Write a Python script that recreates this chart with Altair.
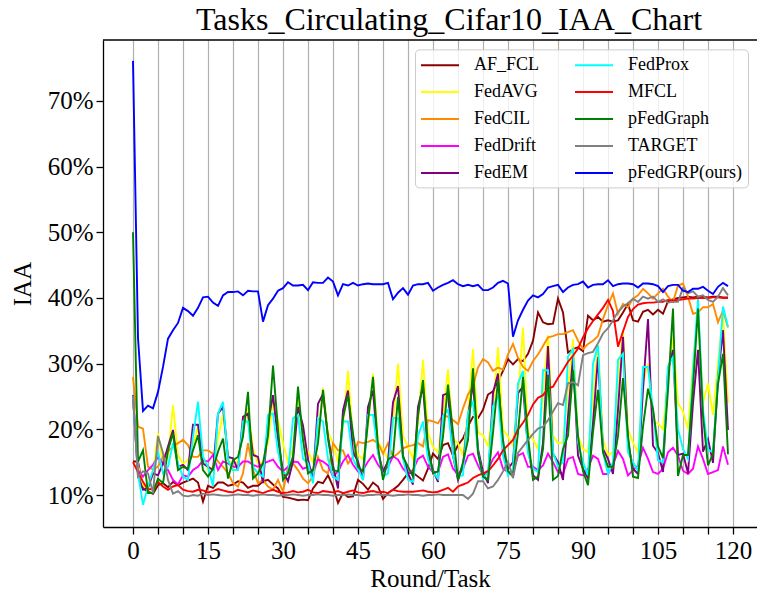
import altair as alt
import pandas as pd

rounds = list(range(120))

af_fcl = [
15.1, 15.1, 11.0, 10.5, 10.2,
11.5, 11.8, 11.2, 12.0, 11.5,
11.9, 12.2, 12.5, 11.9, 9.0,
11.4, 11.1, 11.9, 11.9, 11.4,
11.6, 12.1, 11.9, 11.1, 11.4,
11.4, 12.1, 12.3, 11.6, 11.0,
9.7, 9.6, 9.4, 9.2, 9.3,
9.2, 11.0, 12.0, 11.8, 13.0,
11.3, 8.8, 10.3, 9.7, 9.8,
12.3, 11.7, 10.8, 11.9, 11.3,
9.4, 10.3, 10.8, 11.4, 12.3,
13.3, 13.4, 12.8, 12.2, 14.0,
16.3, 15.5, 17.6, 17.9, 16.0,
17.6, 18.6, 20.5, 21.9, 21.7,
23.0, 25.3, 25.8, 27.3, 28.9,
30.7, 29.9, 30.7, 30.4, 31.5,
33.5, 37.8, 36.3, 36.0, 36.1,
39.9, 37.8, 31.7, 32.2, 32.5,
31.9, 37.3, 36.6, 37.1, 36.4,
36.6, 36.4, 36.6, 37.8, 39.1,
36.6, 36.4, 37.9, 38.2, 37.5,
38.2, 37.6, 39.5, 39.8, 40.0,
40.1, 40.2, 40.1, 40.2, 40.2,
40.1, 40.2, 40.2, 40.1, 40.1]

fedavg = [
25.0, 14.5, 11.5, 10.8, 13.5,
19.4, 14.8, 15.8, 23.7, 16.0,
14.8, 15.3, 17.4, 20.4, 15.8,
13.8, 14.3, 18.6, 22.4, 15.8,
13.8, 15.3, 19.9, 23.2, 17.1,
14.8, 15.0, 18.0, 24.5, 21.4,
17.9, 15.0, 17.0, 24.5, 18.5,
16.6, 15.0, 19.0, 26.3, 19.5,
17.9, 15.0, 20.5, 28.9, 18.5,
16.1, 15.5, 20.5, 28.5, 18.0,
17.0, 15.5, 21.0, 30.0, 19.0,
17.3, 15.5, 21.0, 30.6, 19.5,
17.3, 16.5, 22.0, 29.1, 18.5,
17.9, 16.0, 22.5, 32.2, 19.5,
19.1, 17.5, 23.0, 32.5, 20.0,
18.9, 17.5, 25.0, 35.5, 19.5,
18.5, 17.0, 25.0, 34.3, 19.0,
17.9, 18.0, 26.0, 33.7, 19.0,
17.0, 16.5, 25.0, 32.7, 18.5,
16.1, 16.5, 27.0, 35.0, 20.0,
18.0, 16.5, 27.0, 30.0, 21.0,
20.9, 20.0, 28.0, 34.0, 24.0,
22.7, 20.0, 30.0, 38.0, 24.0,
27.0, 22.2, 30.0, 37.5, 24.0]

fedcil = [
28.0, 20.4, 20.1, 14.3, 13.9,
14.3, 15.8, 16.6, 17.4, 17.9,
18.4, 17.6, 15.8, 15.8, 16.8,
16.8, 16.3, 15.1, 14.3, 13.3,
11.8, 11.3, 13.3, 17.9, 13.8,
11.8, 12.3, 11.3, 10.8, 12.3,
10.5, 14.3, 14.8, 13.8, 12.5,
11.8, 12.8, 15.8, 13.8, 13.3,
17.9, 16.8, 16.8, 14.8, 15.8,
18.1, 17.9, 18.1, 18.4, 17.9,
16.3, 17.9, 15.8, 16.3, 17.1,
17.4, 17.6, 17.9, 17.4, 21.4,
21.2, 20.9, 22.2, 21.9, 21.4,
20.8, 23.2, 25.3, 26.6, 29.4,
30.7, 30.2, 28.9, 29.4, 29.1,
31.4, 33.0, 30.9, 29.5, 28.9,
30.4, 31.4, 32.7, 34.0, 34.2,
34.5, 34.5, 34.8, 35.1, 33.5,
32.2, 33.0, 33.5, 34.2, 36.8,
38.9, 40.7, 37.6, 39.1, 38.6,
39.9, 40.4, 41.4, 40.7, 39.9,
40.7, 41.4, 40.2, 39.4, 41.9,
42.2, 40.2, 37.6, 37.8, 38.6,
38.6, 39.1, 36.3, 38.1, 35.5]

feddrift = [
25.0, 13.8, 12.8, 13.8, 14.6,
15.8, 14.8, 13.8, 12.3, 11.6,
13.0, 12.8, 13.8, 14.3, 15.3,
15.1, 16.1, 13.8, 15.1, 14.8,
14.3, 14.3, 15.1, 15.1, 14.6,
14.3, 14.8, 15.1, 15.4, 14.3,
13.6, 14.3, 15.1, 15.0, 14.0,
14.3, 13.6, 15.4, 15.1, 14.5,
12.8, 13.6, 15.1, 16.1, 14.6,
13.6, 13.8, 15.1, 16.1, 14.6,
13.6, 14.3, 15.9, 15.4, 14.0,
13.2, 13.8, 15.5, 16.0, 14.3,
13.5, 13.5, 15.8, 16.2, 14.0,
13.2, 14.0, 16.0, 16.3, 14.5,
13.0, 13.8, 15.5, 16.5, 14.0,
13.5, 13.5, 16.0, 16.4, 14.3,
14.3, 13.8, 14.5, 16.3, 15.0,
13.5, 13.2, 15.5, 15.8, 13.2,
13.0, 14.0, 16.0, 15.5, 13.2,
13.2, 14.5, 16.7, 15.5, 13.0,
13.8, 14.5, 17.2, 15.5, 13.5,
13.2, 14.0, 16.5, 17.2, 16.0,
13.7, 13.2, 14.0, 17.4, 15.5,
13.2, 13.5, 13.8, 17.4, 14.6]

fedem = [
25.2, 12.8, 10.8, 11.1, 13.3,
13.0, 14.8, 17.4, 19.9, 14.3,
14.6, 13.8, 20.7, 20.7, 14.8,
14.3, 13.8, 22.4, 23.4, 15.8,
15.6, 13.8, 21.9, 22.4, 16.1,
15.8, 11.8, 20.9, 25.2, 18.4,
13.6, 12.1, 15.1, 23.4, 20.6,
15.4, 12.3, 23.9, 25.4, 18.9,
14.5, 11.0, 22.9, 25.9, 16.5,
15.1, 12.3, 23.4, 25.9, 16.6,
13.6, 15.1, 24.1, 26.6, 16.0,
13.3, 11.6, 23.4, 26.5, 16.5,
13.8, 12.0, 25.2, 25.5, 16.0,
12.3, 14.5, 22.0, 27.0, 17.0,
13.5, 11.8, 25.5, 28.5, 16.5,
14.0, 15.0, 25.5, 26.5, 17.0,
13.0, 12.3, 18.0, 32.7, 16.3,
15.0, 12.3, 22.0, 31.0, 16.0,
14.0, 12.5, 21.0, 31.0, 17.0,
15.5, 13.2, 23.0, 34.1, 18.0,
14.0, 13.2, 26.0, 36.8, 17.5,
16.4, 13.5, 29.0, 32.1, 16.1,
16.3, 13.3, 24.0, 32.1, 16.6,
18.5, 14.9, 28.0, 35.1, 19.9]

fedprox = [
25.0, 13.3, 8.5, 11.3, 13.8,
16.6, 13.3, 14.3, 17.9, 14.8,
12.8, 12.3, 18.9, 24.2, 15.8,
14.3, 11.3, 22.4, 24.2, 15.3,
13.8, 13.8, 21.2, 21.2, 14.3,
13.3, 12.8, 22.2, 22.4, 16.6,
13.3, 13.3, 21.7, 22.2, 15.5,
14.8, 11.8, 21.7, 21.2, 15.5,
12.8, 12.3, 21.2, 21.2, 15.5,
14.0, 12.3, 22.2, 22.2, 16.5,
12.8, 13.3, 21.7, 21.7, 15.5,
12.3, 12.0, 19.0, 21.2, 15.5,
13.5, 12.5, 22.0, 23.0, 16.0,
12.8, 13.0, 22.5, 24.3, 16.5,
12.5, 13.5, 23.5, 25.0, 16.0,
13.0, 14.0, 27.0, 28.9, 16.3,
14.0, 13.5, 29.0, 29.0, 16.5,
14.3, 15.0, 31.1, 32.2, 18.0,
15.0, 13.0, 30.0, 32.8, 16.5,
13.2, 15.0, 30.6, 31.5, 16.5,
15.0, 13.7, 29.5, 29.5, 23.0,
15.3, 15.0, 29.6, 31.0, 20.0,
17.0, 15.5, 29.0, 39.9, 23.0,
16.9, 16.5, 28.0, 38.7, 35.6]

mfcl = [
15.0, 13.5, 12.0, 10.8, 11.0,
12.0, 11.3, 10.8, 11.3, 11.5,
10.8, 10.6, 10.5, 10.8, 10.7,
10.4, 10.6, 10.9, 10.7, 10.5,
10.4, 10.8, 10.6, 10.4, 10.7,
10.5, 10.3, 10.6, 10.8, 10.5,
10.3, 10.4, 10.6, 10.4, 10.5,
10.8, 10.4, 10.3, 10.6, 10.5,
10.4, 10.6, 10.3, 10.5, 10.7,
10.4, 10.3, 10.5, 10.6, 10.4,
10.5, 10.3, 10.8, 10.6, 10.5,
10.5, 10.5, 10.6, 10.7, 10.5,
10.4, 10.5, 10.8, 11.1, 10.5,
11.3, 11.6, 11.9, 12.6, 13.0,
13.3, 13.6, 14.5, 15.5, 16.8,
17.6, 18.4, 20.0, 21.0, 22.2,
23.8, 24.8, 25.2, 26.2, 26.5,
27.8, 29.0, 30.3, 31.2, 32.3,
34.0, 35.4, 36.5, 37.5, 38.5,
39.7, 38.0, 32.6, 34.9, 37.1,
38.3, 39.0, 39.2, 39.3, 39.3,
39.4, 39.4, 39.7, 39.6, 39.7,
39.8, 39.9, 39.9, 40.0, 40.0,
40.0, 40.1, 40.1, 40.0, 40.0]

pfedgraph = [
50.0, 15.1, 16.8, 10.3, 10.3,
12.5, 11.8, 16.8, 19.4, 13.8,
14.3, 14.0, 16.8, 19.1, 13.8,
12.8, 14.0, 16.6, 18.6, 12.5,
15.3, 15.8, 18.9, 25.7, 12.5,
13.3, 14.8, 19.0, 29.7, 20.0,
12.3, 13.3, 15.9, 26.5, 18.4,
13.3, 13.8, 17.9, 26.0, 18.6,
13.8, 13.6, 21.7, 25.2, 19.4,
14.3, 13.6, 21.2, 28.0, 17.4,
12.3, 15.4, 15.9, 24.9, 15.8,
14.3, 12.8, 22.0, 27.5, 17.4,
13.3, 13.6, 18.9, 26.8, 19.5,
12.3, 15.0, 18.4, 29.3, 16.4,
12.8, 12.3, 19.5, 27.5, 18.4,
13.6, 12.8, 19.5, 28.0, 18.9,
12.3, 12.8, 17.0, 28.3, 12.3,
12.9, 17.0, 19.0, 29.0, 19.0,
13.6, 11.5, 19.6, 26.0, 16.5,
14.3, 14.3, 19.0, 27.8, 19.0,
12.8, 12.6, 20.4, 26.2, 23.1,
17.4, 15.6, 26.0, 38.4, 12.9,
16.1, 16.1, 26.5, 38.4, 22.0,
14.5, 16.3, 26.9, 31.5, 16.2]

target = [
25.0, 12.8, 13.6, 13.3, 10.3,
19.0, 16.4, 12.3, 10.2, 10.6,
9.9, 9.8, 10.0, 9.9, 10.2,
10.0, 10.1, 10.0, 9.9, 9.9,
10.0, 10.1, 10.0, 10.0, 9.9,
10.0, 10.1, 10.0, 10.0, 9.9,
10.0, 10.0, 10.1, 10.0, 9.9,
10.0, 10.0, 10.1, 10.0, 10.0,
9.9, 10.0, 10.0, 10.1, 10.0,
10.0, 9.9, 10.0, 10.0, 10.1,
10.0, 10.0, 9.9, 10.0, 10.0,
10.1, 10.0, 10.0, 9.9, 10.0,
10.0, 10.1, 10.0, 10.0, 10.0,
10.0, 10.0, 9.4, 10.2, 12.1,
12.1, 11.0, 11.3, 12.3, 13.6,
15.1, 12.6, 16.4, 17.4, 18.4,
19.3, 20.1, 20.4, 21.4, 22.7,
24.0, 23.7, 27.0, 27.2, 26.7,
31.3, 31.6, 31.8, 33.1, 34.6,
35.4, 36.6, 37.9, 38.7, 39.2,
39.9, 39.4, 40.2, 39.9, 40.2,
39.4, 39.8, 39.3, 39.4, 39.4,
41.5, 40.7, 41.0, 40.2, 40.4,
39.7, 39.4, 40.2, 41.5, 40.4]

pfedgrp = [
76.1, 33.9, 22.8, 23.6, 23.2,
25.7, 29.5, 33.8, 35.1, 36.2,
38.5, 38.0, 37.3, 38.5, 40.1,
40.2, 39.3, 38.8, 40.4, 40.9,
40.9, 41.0, 40.4, 41.1, 41.0,
41.0, 36.4, 38.9, 39.9, 41.1,
41.5, 42.4, 41.9, 41.9, 42.0,
41.2, 42.4, 42.3, 42.3, 43.1,
42.5, 40.4, 42.1, 41.9, 42.3,
41.9, 42.1, 42.2, 42.1, 42.1,
42.1, 42.3, 39.8, 40.8, 41.5,
40.5, 41.9, 42.1, 42.1, 42.3,
41.1, 41.6, 42.0, 42.3, 42.7,
42.1, 41.8, 42.0, 41.8, 42.0,
41.2, 41.2, 41.6, 42.3, 42.6,
42.2, 34.1, 36.6, 38.2, 39.6,
40.4, 40.1, 40.6, 41.6, 41.8,
42.0, 40.9, 41.6, 42.0, 42.1,
42.5, 41.6, 42.0, 42.1, 42.1,
42.7, 41.8, 42.1, 42.2, 42.2,
42.1, 41.6, 42.2, 42.2, 42.1,
41.8, 40.9, 41.8, 42.0, 42.0,
41.1, 40.9, 41.4, 41.4, 41.7,
41.1, 40.6, 41.7, 42.3, 41.8]

methods = ["AF_FCL", "FedAVG", "FedCIL", "FedDrift", "FedEM",
           "FedProx", "MFCL", "pFedGraph", "TARGET", "pFedGRP(ours)"]
series_values = [af_fcl, fedavg, fedcil, feddrift, fedem,
                 fedprox, mfcl, pfedgraph, target, pfedgrp]
colors = ["#8B0000", "#FFFF00", "#FF8C00", "#FF00FF", "#800080",
          "#00FFFF", "#FF0000", "#008000", "#808080", "#0000FF"]
title_text = "Tasks_Circulating_Cifar10_IAA_Chart"

rows = []
for name, vals in zip(methods, series_values):
    for r, v in zip(rounds, vals):
        rows.append({"round": r, "iaa": v, "method": name})
df = pd.DataFrame(rows)

FONT = "Liberation Serif"

x_enc = alt.X("round:Q",
              scale=alt.Scale(domain=[-6, 124.8], nice=False, zero=False),
              axis=alt.Axis(values=list(range(0, 121, 5)),
                            labelExpr="datum.value % 15 === 0 ? datum.label : ''",
                            title="Round/Task", grid=True, labelOverlap=False,
                            labelFlush=False))
y_enc = alt.Y("iaa:Q",
              scale=alt.Scale(domain=[5.13, 79.28], nice=False, zero=False),
              axis=alt.Axis(values=[10, 20, 30, 40, 50, 60, 70],
                            labelExpr="datum.value + '%'",
                            title="IAA", grid=False))
color_enc = alt.Color("method:N",
                      scale=alt.Scale(domain=methods, range=colors),
                      legend=alt.Legend(orient="none", legendX=312, legendY=9.4,
                                        columns=2, title=None,
                                        symbolType="M-1,0H3", symbolSize=361,
                                        symbolStrokeWidth=2,
                                        labelFont=FONT, labelFontSize=18,
                                        labelColor="black", labelOffset=33,
                                        labelLimit=0,
                                        columnPadding=31, rowPadding=7,
                                        padding=5, strokeColor="#cccccc",
                                        fillColor="rgba(255,255,255,0.8)",
                                        cornerRadius=4))

base = alt.Chart(df)
layers = []
for name in methods:
    layers.append(
        base.transform_filter(alt.datum.method == name)
        .mark_line(strokeWidth=1.9, clip=True)
        .encode(x=x_enc, y=y_enc, color=color_enc)
    )

deco = alt.Chart(pd.DataFrame({"t": [title_text]}))
top_spine = deco.mark_rule(color="black", strokeWidth=1.3).encode(
    x=alt.value(0), x2=alt.value(654), y=alt.value(0))
title_mark = deco.mark_text(font=FONT, fontSize=32, color="black",
                            align="center", baseline="alphabetic").encode(
    text="t:N", x=alt.value(346), y=alt.value(-10))

chart = alt.layer(*layers, top_spine, title_mark).properties(
    width=654, height=487,
    autosize=alt.AutoSizeParams(type="none"),
    padding={"left": 103, "top": 40, "right": 0, "bottom": 67},
    background="white",
).configure_view(stroke=None).configure_axis(
    labelFont=FONT, labelFontSize=25, labelColor="black",
    titleFont=FONT, titleFontSize=25, titleFontWeight="normal", titleColor="black",
    tickColor="black", tickSize=7, tickWidth=1.3,
    domainColor="black", domainWidth=1.3,
    gridColor="#b0b0b0", gridWidth=1.2,
).configure_axisX(labelPadding=4, titlePadding=3).configure_axisY(
    labelPadding=3, titlePadding=12)

chart.save("out.html", embed_options={"renderer": "svg", "actions": False})
